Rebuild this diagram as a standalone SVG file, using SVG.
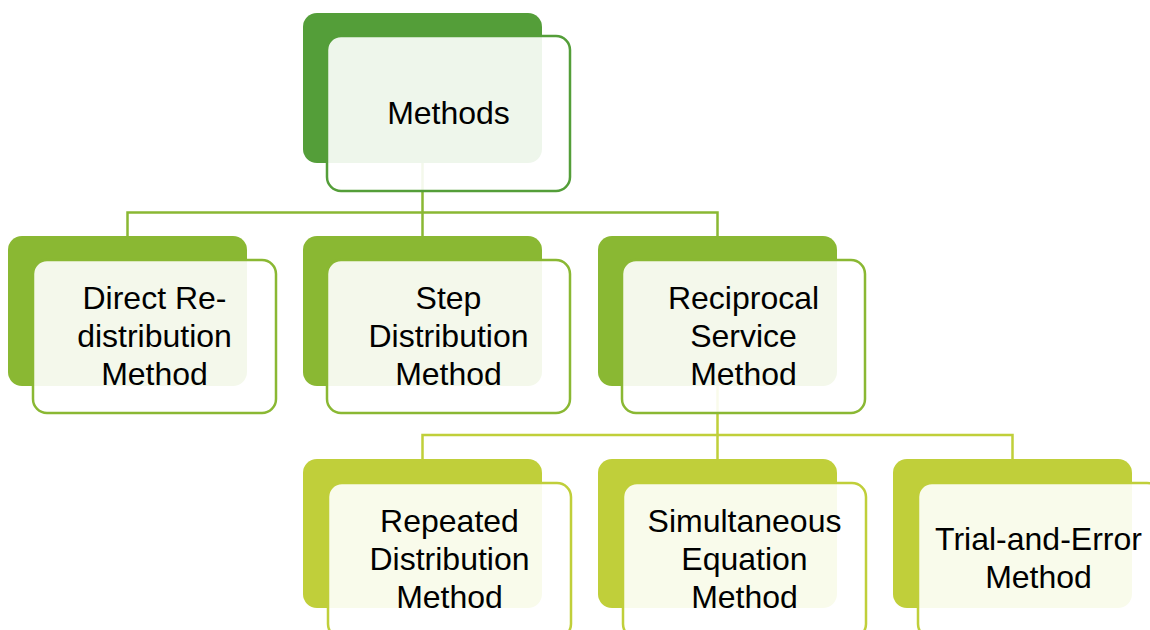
<svg xmlns="http://www.w3.org/2000/svg" width="1150" height="630" viewBox="0 0 1150 630">
<style>
.t{font-family:"Liberation Sans",Arial,sans-serif;font-size:32px;fill:#000;text-anchor:middle}
.fr{fill:#fff;fill-opacity:0.9;stroke-width:2.5}
.c1{fill:none;stroke:#8AB833;stroke-width:2.5}
.c2{fill:none;stroke:#C0CF3A;stroke-width:2.5}
.l0{fill:#549E39}.s0{stroke:#549E39}
.l1{fill:#8AB833}.s1{stroke:#8AB833}
.l2{fill:#C0CF3A}.s2{stroke:#C0CF3A}
</style>
<rect width="1150" height="630" fill="#fff"/>
<g id="connectors">
<path class="c1" d="M422.5 163V212.5M127.5 236V212.5H717.5V236M422.5 212.5V236"/>
<path class="c2" d="M717.5 386V435M422.5 459V435H1012.5V459M717.5 435V459"/>
</g>
<g id="n-methods">
<rect class="l0" x="303" y="13" width="239" height="150" rx="14"/>
<rect class="fr s0" x="327" y="36" width="243" height="155" rx="14"/>
<text class="t" x="448.5" y="124">Methods</text>
</g>
<g id="n-direct">
<rect class="l1" x="8" y="236" width="239" height="150" rx="14"/>
<rect class="fr s1" x="33" y="260" width="243" height="153" rx="14"/>
<text class="t" x="154.5" y="309">Direct Re-</text>
<text class="t" x="154.5" y="347">distribution</text>
<text class="t" x="154.5" y="385">Method</text>
</g>
<g id="n-step">
<rect class="l1" x="303" y="236" width="239" height="150" rx="14"/>
<rect class="fr s1" x="327" y="260" width="243" height="153" rx="14"/>
<text class="t" x="448.5" y="309">Step</text>
<text class="t" x="448.5" y="347">Distribution</text>
<text class="t" x="448.5" y="385">Method</text>
</g>
<g id="n-reciprocal">
<rect class="l1" x="598" y="236" width="239" height="150" rx="14"/>
<rect class="fr s1" x="622" y="260" width="243" height="153" rx="14"/>
<text class="t" x="743.5" y="309">Reciprocal</text>
<text class="t" x="743.5" y="347">Service</text>
<text class="t" x="743.5" y="385">Method</text>
</g>
<g id="n-repeated">
<rect class="l2" x="303" y="459" width="239" height="149" rx="14"/>
<rect class="fr s2" x="328" y="483" width="243" height="155" rx="14"/>
<text class="t" x="449.5" y="532">Repeated</text>
<text class="t" x="449.5" y="570">Distribution</text>
<text class="t" x="449.5" y="608">Method</text>
</g>
<g id="n-simultaneous">
<rect class="l2" x="598" y="459" width="239" height="149" rx="14"/>
<rect class="fr s2" x="623" y="483" width="243" height="155" rx="14"/>
<text class="t" x="744.5" y="532">Simultaneous</text>
<text class="t" x="744.5" y="570">Equation</text>
<text class="t" x="744.5" y="608">Method</text>
</g>
<g id="n-trial">
<rect class="l2" x="893" y="459" width="239" height="149" rx="14"/>
<rect class="fr s2" x="918" y="483" width="243" height="155" rx="14"/>
<text class="t" x="1038.5" y="550">Trial-and-Error</text>
<text class="t" x="1038.5" y="588">Method</text>
</g>
</svg>
